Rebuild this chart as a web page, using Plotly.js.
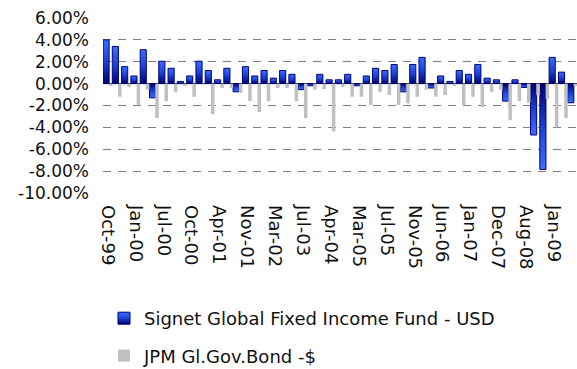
<!DOCTYPE html>
<html>
<head>
<meta charset="utf-8">
<script src="https://cdn.plot.ly/plotly-3.0.1.min.js"></script>
<style>
  html, body { margin: 0; padding: 0; background: #ffffff; }
  #chart { width: 577px; height: 369px; }
</style>
</head>
<body>
<div id="chart"></div>
<script>
// Periodic returns (%) of the fund and its benchmark
const fundName = 'Signet Global Fixed Income Fund - USD';
const benchName = 'JPM Gl.Gov.Bond -$';

const fundReturns = [
  4.0, 3.4, 1.55, 0.7, 3.1, -1.3, 2.05, 1.4, 0.2, 0.7,
  2.05, 1.2, 0.35, 1.4, -0.75, 1.55, 0.7, 1.2, 0.5, 1.2,
  0.85, -0.55, -0.2, 0.85, 0.35, 0.35, 0.85, -0.2, 0.7, 1.4,
  1.2, 1.75, -0.75, 1.75, 2.4, -0.4, 0.7, 0.2, 1.2, 0.85,
  1.75, 0.5, 0.35, -1.6, 0.35, -0.35, -4.7, -7.85, 2.4, 1.05,
  -1.75
];

const benchReturns = [
  -0.2, -1.2, -0.3, -1.95, -0.55, -3.15, -1.6, -0.75, -0.2, -1.2,
  -0.1, -2.8, -0.4, -0.4, -0.85, -1.6, -2.6, -1.6, -0.4, -0.4,
  -1.6, -3.15, -0.55, -0.5, -4.35, -0.3, -1.2, -1.2, -1.95, -0.75,
  -1.05, -1.95, -1.8, -1.2, -0.55, -1.2, -1.05, -0.2, -1.95, -1.2,
  -2.15, -0.75, -0.55, -3.35, -1.6, -1.75, -1.05, -1.4, -4.0, -3.15,
  -0.2
];

// Date labels shown on every third period
const tickLabels = [
  'Oct-99', 'Jan-00', 'Jul-00', 'Oct-00', 'Apr-01', 'Nov-01', 'Mar-02',
  'Jul-03', 'Apr-04', 'Mar-05', 'Jul-05', 'Nov-05', 'Jun-06', 'Jan-07',
  'Dec-07', 'Aug-08', 'Jan-09'
];
const labelStep = 3;

const yTickValues = [6, 4, 2, 0, -2, -4, -6, -8, -10];
const yTickLabels = ['6.00%', '4.00%', '2.00%', '0.00%', '-2.00%', '-4.00%', '-6.00%', '-8.00%', '-10.00%'];

const periods = fundReturns.map((_, i) => i);
const tickPositions = tickLabels.map((_, k) => k * labelStep);

const FONT = 'DejaVu Sans, Arial, sans-serif';
const TEXT = '#111111';

const traces = [
  {
    type: 'bar',
    name: fundName,
    legendgroup: 'fund',
    x: periods,
    y: fundReturns,
    offset: -0.5,
    width: 0.66,
    marker: { color: '#1f45d8', line: { color: '#00007a', width: 1 } },
    hoverinfo: 'skip'
  },
  {
    type: 'bar',
    name: benchName,
    legendgroup: 'bench',
    x: periods,
    y: benchReturns,
    offset: 0.12,
    width: 0.38,
    marker: { color: '#c0c0c0', line: { width: 0 } },
    hoverinfo: 'skip'
  }
];

const layout = {
  width: 577,
  height: 369,
  margin: { l: 103, r: 0, t: 18, b: 176, autoexpand: false },
  paper_bgcolor: '#ffffff',
  plot_bgcolor: '#ffffff',
  font: { family: FONT, size: 17, color: TEXT },
  barmode: 'overlay',
  xaxis: {
    range: [-0.5, 50.5],
    tickmode: 'array',
    tickvals: tickPositions,
    ticktext: tickLabels,
    tickangle: 90,
    ticks: '',
    ticklabelstandoff: 11,
    showgrid: false,
    zeroline: false,
    showline: false,
    automargin: false,
    tickfont: { family: FONT, size: 18, color: TEXT }
  },
  yaxis: {
    range: [-10, 6],
    tickmode: 'array',
    tickvals: yTickValues,
    ticktext: yTickLabels,
    ticks: '',
    ticklabelstandoff: 13,
    showgrid: true,
    gridcolor: '#808080',
    gridwidth: 1.2,
    griddash: '8px,7px',
    zeroline: true,
    zerolinecolor: '#000000',
    zerolinewidth: 1.5,
    showline: false,
    automargin: false,
    tickfont: { family: FONT, size: 17, color: TEXT }
  },
  showlegend: true,
  legend: {
    xref: 'container',
    yref: 'container',
    x: 104 / 577,
    y: 1 - 300 / 369,
    xanchor: 'left',
    yanchor: 'top',
    orientation: 'v',
    traceorder: 'grouped',
    tracegroupgap: 11,
    bgcolor: 'rgba(0,0,0,0)',
    font: { family: FONT, size: 18, color: TEXT }
  }
};

Plotly.newPlot('chart', traces, layout, { staticPlot: true, displayModeBar: false }).then(gd => {
  // Shade the fund bars from dark navy at the zero line to bright blue at the tip
  const ns = 'http://www.w3.org/2000/svg';
  const svg = gd.querySelector('.main-svg');
  let defs = svg.querySelector('defs');
  if (!defs) { defs = document.createElementNS(ns, 'defs'); svg.insertBefore(defs, svg.firstChild); }
  const addGradient = (id, y1, y2) => {
    const g = document.createElementNS(ns, 'linearGradient');
    g.setAttribute('id', id);
    g.setAttribute('x1', '0'); g.setAttribute('x2', '0');
    g.setAttribute('y1', y1); g.setAttribute('y2', y2);
    [['0', '#00006a'], ['0.5', '#1c42d6'], ['1', '#3a6eff']].forEach(([o, c]) => {
      const s = document.createElementNS(ns, 'stop');
      s.setAttribute('offset', o);
      s.setAttribute('stop-color', c);
      g.appendChild(s);
    });
    defs.appendChild(g);
  };
  addGradient('fundUp', '1', '0');
  addGradient('fundDown', '0', '1');

  const fundTrace = gd.querySelectorAll('.barlayer .trace')[0];
  if (fundTrace) {
    fundTrace.querySelectorAll('.point').forEach((pt, i) => {
      const path = pt.querySelector('path');
      if (path) path.style.fill = fundReturns[i] >= 0 ? 'url(#fundUp)' : 'url(#fundDown)';
    });
  }
  const legendFund = gd.querySelector('.legend .traces .legendpoints path');
  if (legendFund) legendFund.style.fill = 'url(#fundUp)';
});
</script>
</body>
</html>
